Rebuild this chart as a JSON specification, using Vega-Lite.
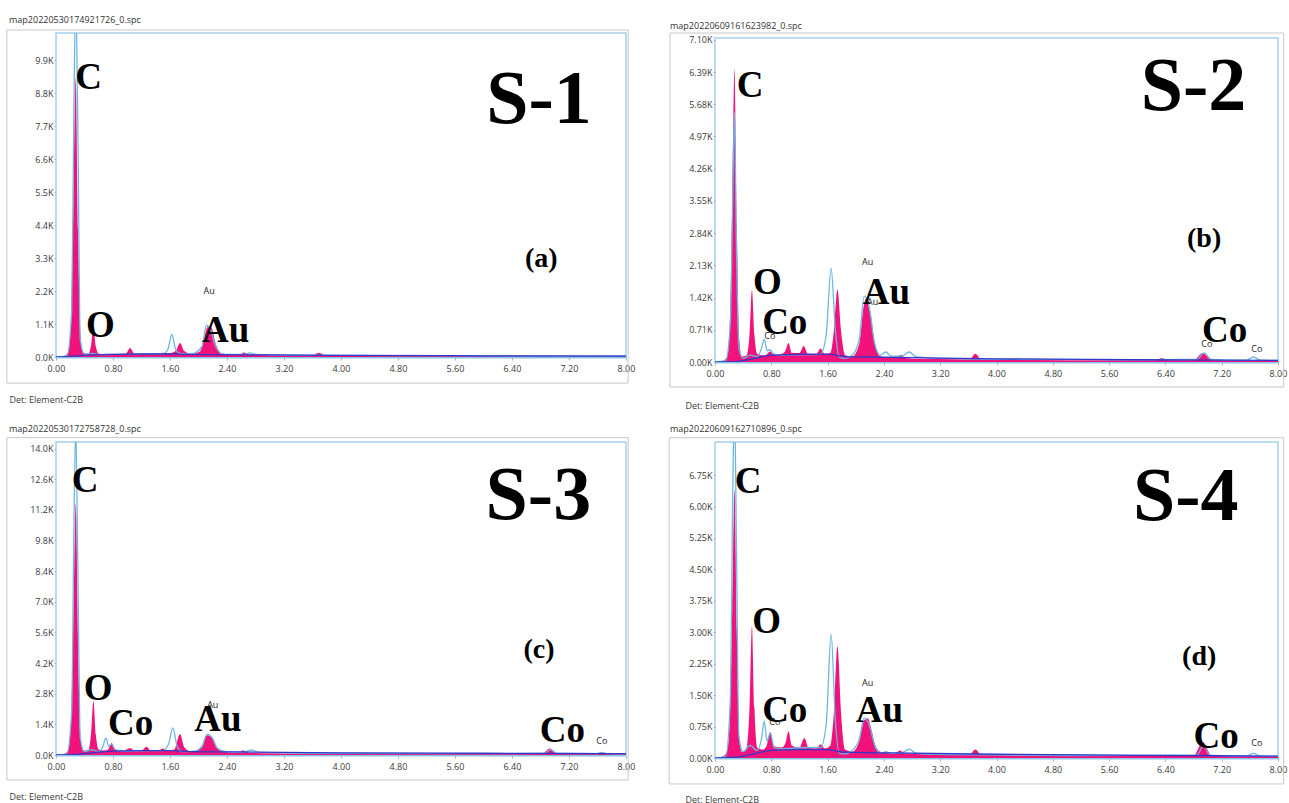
{
  "$schema": "https://vega.github.io/schema/vega-lite/v6.json",
  "background": "white",
  "padding": {"left": 5, "top": 14, "right": 0, "bottom": 0},
  "spacing": 13,
  "datasets": {
    "s1": [
      {"s":"m","e":0.00,"c":0},{"s":"m","e":0.10,"c":20},{"s":"m","e":0.17,"c":150},{"s":"m","e":0.21,"c":1200},{"s":"m","e":0.245,"c":5200},{"s":"m","e":0.277,"c":9300},{"s":"m","e":0.31,"c":4200},{"s":"m","e":0.345,"c":700},{"s":"m","e":0.38,"c":150},{"s":"m","e":0.45,"c":110},{"s":"m","e":0.49,"c":350},{"s":"m","e":0.525,"c":1000},{"s":"m","e":0.56,"c":350},{"s":"m","e":0.60,"c":110},{"s":"m","e":0.75,"c":90},{"s":"m","e":0.98,"c":110},{"s":"m","e":1.04,"c":300},{"s":"m","e":1.10,"c":110},{"s":"m","e":1.25,"c":120},{"s":"m","e":1.40,"c":110},{"s":"m","e":1.50,"c":140},{"s":"m","e":1.58,"c":120},{"s":"m","e":1.68,"c":200},{"s":"m","e":1.74,"c":470},{"s":"m","e":1.80,"c":200},{"s":"m","e":1.90,"c":110},{"s":"m","e":2.02,"c":180},{"s":"m","e":2.08,"c":650},{"s":"m","e":2.13,"c":1000},{"s":"m","e":2.18,"c":980},{"s":"m","e":2.24,"c":450},{"s":"m","e":2.32,"c":120},{"s":"m","e":2.45,"c":90},{"s":"m","e":2.58,"c":80},{"s":"m","e":2.64,"c":150},{"s":"m","e":2.70,"c":80},{"s":"m","e":2.80,"c":90},{"s":"m","e":3.00,"c":60},{"s":"m","e":3.60,"c":50},{"s":"m","e":3.69,"c":140},{"s":"m","e":3.78,"c":50},{"s":"m","e":4.50,"c":40},{"s":"m","e":6.00,"c":30},{"s":"m","e":8.00,"c":20},
      {"s":"g","e":0.00,"c":0},{"s":"g","e":0.15,"c":40},{"s":"g","e":0.22,"c":1500},{"s":"g","e":0.25,"c":8000},{"s":"g","e":0.277,"c":12000},{"s":"g","e":0.305,"c":8000},{"s":"g","e":0.34,"c":600},{"s":"g","e":0.40,"c":80},{"s":"g","e":0.50,"c":120},{"s":"g","e":0.60,"c":80},{"s":"g","e":1.00,"c":90},{"s":"g","e":1.50,"c":100},{"s":"g","e":1.57,"c":250},{"s":"g","e":1.625,"c":750},{"s":"g","e":1.68,"c":250},{"s":"g","e":1.74,"c":120},{"s":"g","e":1.90,"c":100},{"s":"g","e":2.05,"c":350},{"s":"g","e":2.11,"c":1050},{"s":"g","e":2.17,"c":900},{"s":"g","e":2.24,"c":350},{"s":"g","e":2.35,"c":90},{"s":"g","e":2.65,"c":90},{"s":"g","e":2.72,"c":140},{"s":"g","e":2.80,"c":90},{"s":"g","e":3.50,"c":60},{"s":"g","e":5.00,"c":45},{"s":"g","e":8.00,"c":35},
      {"s":"b","e":0.00,"c":0},{"s":"b","e":0.20,"c":20},{"s":"b","e":0.40,"c":60},{"s":"b","e":0.80,"c":90},{"s":"b","e":1.20,"c":100},{"s":"b","e":1.60,"c":100},{"s":"b","e":1.80,"c":90},{"s":"b","e":2.20,"c":80},{"s":"b","e":3.00,"c":70},{"s":"b","e":4.00,"c":55},{"s":"b","e":6.00,"c":40},{"s":"b","e":8.00,"c":30}
    ],
    "s2": [
      {"s":"m","e":0.00,"c":0},{"s":"m","e":0.10,"c":20},{"s":"m","e":0.17,"c":100},{"s":"m","e":0.21,"c":800},{"s":"m","e":0.245,"c":3500},{"s":"m","e":0.277,"c":6450},{"s":"m","e":0.31,"c":3000},{"s":"m","e":0.345,"c":500},{"s":"m","e":0.38,"c":120},{"s":"m","e":0.45,"c":150},{"s":"m","e":0.49,"c":600},{"s":"m","e":0.525,"c":1590},{"s":"m","e":0.56,"c":600},{"s":"m","e":0.60,"c":180},{"s":"m","e":0.66,"c":150},{"s":"m","e":0.72,"c":150},{"s":"m","e":0.78,"c":230},{"s":"m","e":0.84,"c":160},{"s":"m","e":0.95,"c":180},{"s":"m","e":1.00,"c":250},{"s":"m","e":1.045,"c":420},{"s":"m","e":1.09,"c":200},{"s":"m","e":1.20,"c":200},{"s":"m","e":1.26,"c":350},{"s":"m","e":1.32,"c":180},{"s":"m","e":1.44,"c":180},{"s":"m","e":1.50,"c":300},{"s":"m","e":1.56,"c":180},{"s":"m","e":1.64,"c":200},{"s":"m","e":1.69,"c":700},{"s":"m","e":1.74,"c":1600},{"s":"m","e":1.79,"c":700},{"s":"m","e":1.85,"c":150},{"s":"m","e":1.95,"c":120},{"s":"m","e":2.05,"c":400},{"s":"m","e":2.11,"c":1200},{"s":"m","e":2.16,"c":1410},{"s":"m","e":2.21,"c":1100},{"s":"m","e":2.27,"c":400},{"s":"m","e":2.35,"c":120},{"s":"m","e":2.50,"c":90},{"s":"m","e":2.58,"c":90},{"s":"m","e":2.64,"c":160},{"s":"m","e":2.70,"c":90},{"s":"m","e":2.90,"c":70},{"s":"m","e":3.50,"c":60},{"s":"m","e":3.62,"c":60},{"s":"m","e":3.70,"c":180},{"s":"m","e":3.78,"c":60},{"s":"m","e":5.00,"c":40},{"s":"m","e":6.25,"c":40},{"s":"m","e":6.35,"c":80},{"s":"m","e":6.45,"c":40},{"s":"m","e":6.80,"c":40},{"s":"m","e":6.93,"c":200},{"s":"m","e":7.06,"c":40},{"s":"m","e":8.00,"c":25},
      {"s":"g","e":0.00,"c":0},{"s":"g","e":0.15,"c":30},{"s":"g","e":0.22,"c":900},{"s":"g","e":0.25,"c":3500},{"s":"g","e":0.277,"c":5500},{"s":"g","e":0.305,"c":2500},{"s":"g","e":0.34,"c":300},{"s":"g","e":0.40,"c":80},{"s":"g","e":0.50,"c":150},{"s":"g","e":0.60,"c":120},{"s":"g","e":0.66,"c":300},{"s":"g","e":0.70,"c":500},{"s":"g","e":0.74,"c":250},{"s":"g","e":0.78,"c":270},{"s":"g","e":0.83,"c":180},{"s":"g","e":0.90,"c":150},{"s":"g","e":1.20,"c":160},{"s":"g","e":1.50,"c":170},{"s":"g","e":1.58,"c":600},{"s":"g","e":1.65,"c":2070},{"s":"g","e":1.71,"c":700},{"s":"g","e":1.77,"c":100},{"s":"g","e":1.85,"c":80},{"s":"g","e":1.95,"c":150},{"s":"g","e":2.05,"c":500},{"s":"g","e":2.12,"c":1450},{"s":"g","e":2.19,"c":1200},{"s":"g","e":2.27,"c":400},{"s":"g","e":2.35,"c":150},{"s":"g","e":2.43,"c":220},{"s":"g","e":2.50,"c":130},{"s":"g","e":2.65,"c":130},{"s":"g","e":2.76,"c":220},{"s":"g","e":2.85,"c":120},{"s":"g","e":3.20,"c":80},{"s":"g","e":4.00,"c":60},{"s":"g","e":6.00,"c":50},{"s":"g","e":6.85,"c":60},{"s":"g","e":6.95,"c":200},{"s":"g","e":7.05,"c":60},{"s":"g","e":7.55,"c":40},{"s":"g","e":7.65,"c":110},{"s":"g","e":7.75,"c":40},{"s":"g","e":8.00,"c":35},
      {"s":"b","e":0.00,"c":0},{"s":"b","e":0.30,"c":10},{"s":"b","e":0.50,"c":60},{"s":"b","e":0.80,"c":150},{"s":"b","e":1.20,"c":170},{"s":"b","e":1.60,"c":175},{"s":"b","e":1.75,"c":140},{"s":"b","e":1.85,"c":120},{"s":"b","e":2.20,"c":110},{"s":"b","e":3.00,"c":90},{"s":"b","e":4.00,"c":70},{"s":"b","e":6.00,"c":50},{"s":"b","e":8.00,"c":35}
    ],
    "s3": [
      {"s":"m","e":0.00,"c":0},{"s":"m","e":0.10,"c":30},{"s":"m","e":0.17,"c":200},{"s":"m","e":0.21,"c":1500},{"s":"m","e":0.245,"c":6500},{"s":"m","e":0.277,"c":11500},{"s":"m","e":0.31,"c":5000},{"s":"m","e":0.345,"c":800},{"s":"m","e":0.38,"c":200},{"s":"m","e":0.45,"c":200},{"s":"m","e":0.49,"c":900},{"s":"m","e":0.525,"c":2470},{"s":"m","e":0.56,"c":900},{"s":"m","e":0.60,"c":250},{"s":"m","e":0.68,"c":200},{"s":"m","e":0.73,"c":250},{"s":"m","e":0.78,"c":550},{"s":"m","e":0.83,"c":250},{"s":"m","e":0.95,"c":200},{"s":"m","e":1.04,"c":320},{"s":"m","e":1.10,"c":200},{"s":"m","e":1.20,"c":200},{"s":"m","e":1.27,"c":380},{"s":"m","e":1.33,"c":200},{"s":"m","e":1.44,"c":200},{"s":"m","e":1.50,"c":300},{"s":"m","e":1.56,"c":200},{"s":"m","e":1.66,"c":250},{"s":"m","e":1.74,"c":960},{"s":"m","e":1.80,"c":350},{"s":"m","e":1.90,"c":150},{"s":"m","e":2.04,"c":350},{"s":"m","e":2.12,"c":900},{"s":"m","e":2.18,"c":850},{"s":"m","e":2.25,"c":350},{"s":"m","e":2.35,"c":150},{"s":"m","e":2.55,"c":100},{"s":"m","e":2.63,"c":220},{"s":"m","e":2.70,"c":100},{"s":"m","e":3.00,"c":80},{"s":"m","e":4.00,"c":60},{"s":"m","e":6.00,"c":50},{"s":"m","e":6.82,"c":60},{"s":"m","e":6.93,"c":300},{"s":"m","e":7.04,"c":60},{"s":"m","e":8.00,"c":40},
      {"s":"g","e":0.00,"c":0},{"s":"g","e":0.15,"c":50},{"s":"g","e":0.22,"c":2000},{"s":"g","e":0.25,"c":10000},{"s":"g","e":0.277,"c":15000},{"s":"g","e":0.305,"c":9000},{"s":"g","e":0.34,"c":800},{"s":"g","e":0.40,"c":150},{"s":"g","e":0.50,"c":250},{"s":"g","e":0.60,"c":150},{"s":"g","e":0.66,"c":400},{"s":"g","e":0.70,"c":780},{"s":"g","e":0.74,"c":400},{"s":"g","e":0.78,"c":500},{"s":"g","e":0.83,"c":250},{"s":"g","e":0.95,"c":180},{"s":"g","e":1.30,"c":200},{"s":"g","e":1.50,"c":200},{"s":"g","e":1.58,"c":500},{"s":"g","e":1.64,"c":1240},{"s":"g","e":1.70,"c":400},{"s":"g","e":1.77,"c":150},{"s":"g","e":1.95,"c":180},{"s":"g","e":2.05,"c":400},{"s":"g","e":2.12,"c":950},{"s":"g","e":2.19,"c":800},{"s":"g","e":2.27,"c":300},{"s":"g","e":2.40,"c":150},{"s":"g","e":2.60,"c":120},{"s":"g","e":2.75,"c":220},{"s":"g","e":2.85,"c":120},{"s":"g","e":3.50,"c":80},{"s":"g","e":6.00,"c":60},{"s":"g","e":6.85,"c":80},{"s":"g","e":6.94,"c":250},{"s":"g","e":7.03,"c":80},{"s":"g","e":7.58,"c":60},{"s":"g","e":7.66,"c":120},{"s":"g","e":7.74,"c":60},{"s":"g","e":8.00,"c":50},
      {"s":"b","e":0.00,"c":0},{"s":"b","e":0.30,"c":30},{"s":"b","e":0.50,"c":100},{"s":"b","e":0.80,"c":180},{"s":"b","e":1.20,"c":200},{"s":"b","e":1.60,"c":200},{"s":"b","e":1.80,"c":170},{"s":"b","e":2.50,"c":140},{"s":"b","e":4.00,"c":100},{"s":"b","e":6.00,"c":80},{"s":"b","e":8.00,"c":60}
    ],
    "s4": [
      {"s":"m","e":0.00,"c":0},{"s":"m","e":0.10,"c":30},{"s":"m","e":0.17,"c":150},{"s":"m","e":0.21,"c":900},{"s":"m","e":0.245,"c":3600},{"s":"m","e":0.277,"c":6400},{"s":"m","e":0.31,"c":3000},{"s":"m","e":0.345,"c":500},{"s":"m","e":0.38,"c":150},{"s":"m","e":0.45,"c":250},{"s":"m","e":0.49,"c":1200},{"s":"m","e":0.525,"c":3150},{"s":"m","e":0.56,"c":1200},{"s":"m","e":0.60,"c":250},{"s":"m","e":0.68,"c":200},{"s":"m","e":0.73,"c":280},{"s":"m","e":0.785,"c":620},{"s":"m","e":0.84,"c":280},{"s":"m","e":0.95,"c":250},{"s":"m","e":1.00,"c":350},{"s":"m","e":1.045,"c":640},{"s":"m","e":1.09,"c":300},{"s":"m","e":1.20,"c":250},{"s":"m","e":1.27,"c":480},{"s":"m","e":1.33,"c":250},{"s":"m","e":1.44,"c":230},{"s":"m","e":1.50,"c":330},{"s":"m","e":1.56,"c":230},{"s":"m","e":1.64,"c":300},{"s":"m","e":1.69,"c":1100},{"s":"m","e":1.74,"c":2670},{"s":"m","e":1.79,"c":1100},{"s":"m","e":1.85,"c":200},{"s":"m","e":1.95,"c":150},{"s":"m","e":2.05,"c":400},{"s":"m","e":2.12,"c":900},{"s":"m","e":2.17,"c":950},{"s":"m","e":2.22,"c":700},{"s":"m","e":2.28,"c":300},{"s":"m","e":2.35,"c":150},{"s":"m","e":2.55,"c":110},{"s":"m","e":2.63,"c":180},{"s":"m","e":2.70,"c":110},{"s":"m","e":3.00,"c":90},{"s":"m","e":3.62,"c":80},{"s":"m","e":3.70,"c":200},{"s":"m","e":3.78,"c":80},{"s":"m","e":5.00,"c":60},{"s":"m","e":6.80,"c":50},{"s":"m","e":6.93,"c":380},{"s":"m","e":7.06,"c":50},{"s":"m","e":8.00,"c":40},
      {"s":"g","e":0.00,"c":0},{"s":"g","e":0.15,"c":40},{"s":"g","e":0.22,"c":1500},{"s":"g","e":0.25,"c":6000},{"s":"g","e":0.277,"c":8500},{"s":"g","e":0.305,"c":5000},{"s":"g","e":0.34,"c":500},{"s":"g","e":0.40,"c":150},{"s":"g","e":0.50,"c":300},{"s":"g","e":0.60,"c":180},{"s":"g","e":0.66,"c":450},{"s":"g","e":0.70,"c":880},{"s":"g","e":0.74,"c":400},{"s":"g","e":0.785,"c":600},{"s":"g","e":0.84,"c":250},{"s":"g","e":0.95,"c":220},{"s":"g","e":1.30,"c":250},{"s":"g","e":1.50,"c":250},{"s":"g","e":1.58,"c":800},{"s":"g","e":1.65,"c":2960},{"s":"g","e":1.71,"c":900},{"s":"g","e":1.77,"c":100},{"s":"g","e":1.85,"c":100},{"s":"g","e":1.95,"c":180},{"s":"g","e":2.05,"c":450},{"s":"g","e":2.12,"c":950},{"s":"g","e":2.19,"c":800},{"s":"g","e":2.27,"c":300},{"s":"g","e":2.35,"c":120},{"s":"g","e":2.43,"c":150},{"s":"g","e":2.50,"c":110},{"s":"g","e":2.65,"c":120},{"s":"g","e":2.76,"c":210},{"s":"g","e":2.86,"c":110},{"s":"g","e":3.30,"c":80},{"s":"g","e":5.00,"c":60},{"s":"g","e":6.85,"c":70},{"s":"g","e":6.94,"c":300},{"s":"g","e":7.03,"c":70},{"s":"g","e":7.56,"c":50},{"s":"g","e":7.65,"c":110},{"s":"g","e":7.74,"c":50},{"s":"g","e":8.00,"c":45},
      {"s":"b","e":0.00,"c":0},{"s":"b","e":0.30,"c":20},{"s":"b","e":0.50,"c":80},{"s":"b","e":0.80,"c":180},{"s":"b","e":1.20,"c":200},{"s":"b","e":1.60,"c":200},{"s":"b","e":1.75,"c":160},{"s":"b","e":1.85,"c":140},{"s":"b","e":2.50,"c":120},{"s":"b","e":4.00,"c":90},{"s":"b","e":6.00,"c":65},{"s":"b","e":8.00,"c":45}
    ],
    "t1": [
      {"k":"S","t":"S-1","e":6.78,"c":7800},
      {"k":"tag","t":"(a)","e":6.81,"c":3000},
      {"k":"el","t":"C","e":0.27,"c":8930},
      {"k":"el","t":"O","e":0.42,"c":670},
      {"k":"el","t":"Au","e":2.05,"c":500},
      {"k":"sm","t":"Au","e":2.15,"c":2100}
    ],
    "t2": [
      {"k":"S","t":"S-2","e":6.80,"c":5550},
      {"k":"tag","t":"(b)","e":6.95,"c":2530},
      {"k":"el","t":"C","e":0.31,"c":5840},
      {"k":"el","t":"O","e":0.54,"c":1500},
      {"k":"el","t":"Co","e":0.67,"c":620},
      {"k":"sm","t":"Co","e":0.78,"c":500},
      {"k":"el","t":"Au","e":2.10,"c":1280},
      {"k":"sm","t":"Au","e":2.17,"c":2140},
      {"k":"sm","t":"Au","e":2.24,"c":1260},
      {"k":"el","t":"Co","e":6.92,"c":440},
      {"k":"sm","t":"Co","e":6.99,"c":330},
      {"k":"sm","t":"Co","e":7.70,"c":220}
    ],
    "t3": [
      {"k":"S","t":"S-3","e":6.77,"c":10800},
      {"k":"tag","t":"(c)","e":6.78,"c":4440},
      {"k":"el","t":"C","e":0.22,"c":12000},
      {"k":"el","t":"O","e":0.39,"c":2520},
      {"k":"el","t":"Co","e":0.73,"c":910},
      {"k":"el","t":"Au","e":1.94,"c":1100},
      {"k":"sm","t":"Au","e":2.20,"c":2150},
      {"k":"el","t":"Co","e":6.79,"c":590},
      {"k":"sm","t":"Co","e":7.66,"c":500}
    ],
    "t4": [
      {"k":"S","t":"S-4","e":6.69,"c":5680},
      {"k":"tag","t":"(d)","e":6.88,"c":2220},
      {"k":"el","t":"C","e":0.28,"c":6320},
      {"k":"el","t":"O","e":0.53,"c":2980},
      {"k":"el","t":"Co","e":0.67,"c":860},
      {"k":"sm","t":"Co","e":0.85,"c":790},
      {"k":"el","t":"Au","e":2.00,"c":860},
      {"k":"sm","t":"Au","e":2.17,"c":1720},
      {"k":"el","t":"Co","e":6.80,"c":240},
      {"k":"sm","t":"Co","e":7.70,"c":290}
    ],
    "f1": [{"xa": -0.69, "xb": 8.03, "ya": 10900, "yb": -870}],
    "f2": [{"xa": -0.64, "xb": 8.08, "ya": 7250, "yb": -550}],
    "f3": [{"xa": -0.69, "xb": 8.03, "ya": 14500, "yb": -1140}],
    "f4": [{"xa": -0.65, "xb": 8.08, "ya": 7640, "yb": -620}]
  },
  "vconcat": [
    {
      "bounds": "flush",
      "spacing": 89,
      "hconcat": [
        {
          "width": 570, "height": 324,
          "title": {"text": "map20220530174921726_0.spc", "dx": -47, "offset": 5},
          "encoding": {
            "x": {"field": "e", "type": "quantitative", "scale": {"domain": [0, 8], "nice": false, "zero": false},
                  "axis": {"values": [0, 0.8, 1.6, 2.4, 3.2, 4, 4.8, 5.6, 6.4, 7.2, 8], "format": ".2f", "title": "Det: Element-C2B", "titleX": -47, "titleY": 45}},
            "y": {"field": "c", "type": "quantitative", "stack": null, "scale": {"domain": [0, 10800], "nice": false},
                  "axis": {"values": [0, 1100, 2200, 3300, 4400, 5500, 6600, 7700, 8800, 9900], "labelExpr": "format(datum.value/1000,'.1f')+'K'", "title": null}}
          },
          "layer": [
            {"data": {"name": "f1"}, "mark": {"type": "rect", "fill": "transparent", "stroke": "#c8c8c8", "strokeWidth": 1},
             "encoding": {"x": {"field": "xa", "type": "quantitative", "title": "Det: Element-C2B"}, "x2": {"field": "xb"}, "y": {"field": "ya", "type": "quantitative", "title": null}, "y2": {"field": "yb"}}},
            {"data": {"name": "s1"}, "transform": [{"filter": "datum.s==='m'"}], "mark": {"type": "area", "color": "#f2127c", "interpolate": "monotone", "clip": true}},
            {"data": {"name": "s1"}, "transform": [{"filter": "datum.s==='g'"}], "mark": {"type": "line", "color": "#6cb6e3", "strokeWidth": 1.3, "interpolate": "monotone", "clip": true}},
            {"data": {"name": "s1"}, "transform": [{"filter": "datum.s==='b'"}], "mark": {"type": "line", "color": "#3038c8", "strokeWidth": 1.3, "interpolate": "monotone", "clip": true}},
            {"data": {"name": "t1"}, "transform": [{"filter": "datum.k==='S'"}], "mark": {"type": "text", "font": "Liberation Serif", "fontWeight": "bold", "fontSize": 76, "align": "center", "baseline": "alphabetic", "color": "black"}, "encoding": {"text": {"field": "t"}}},
            {"data": {"name": "t1"}, "transform": [{"filter": "datum.k==='tag'"}], "mark": {"type": "text", "font": "Liberation Serif", "fontWeight": "bold", "fontSize": 28, "align": "center", "baseline": "alphabetic", "color": "black"}, "encoding": {"text": {"field": "t"}}},
            {"data": {"name": "t1"}, "transform": [{"filter": "datum.k==='el'"}], "mark": {"type": "text", "font": "Liberation Serif", "fontWeight": "bold", "fontSize": 37, "align": "left", "baseline": "alphabetic", "color": "black"}, "encoding": {"text": {"field": "t"}}},
            {"data": {"name": "t1"}, "transform": [{"filter": "datum.k==='sm'"}], "mark": {"type": "text", "font": "Open Sans", "fontSize": 9, "align": "center", "baseline": "alphabetic", "color": "#222"}, "encoding": {"text": {"field": "t"}}}
          ]
        },
        {
          "bounds": "flush",
          "spacing": 4,
          "vconcat": [
            {"width": 563, "height": 1, "data": {"values": [{}]}, "mark": {"type": "point", "opacity": 0}, "view": {"stroke": null}},
            {
              "width": 563, "height": 324,
              "title": {"text": "map20220609161623982_0.spc", "dx": -45, "offset": 2},
              "encoding": {
                "x": {"field": "e", "type": "quantitative", "scale": {"domain": [0, 8], "nice": false, "zero": false},
                      "axis": {"values": [0, 0.8, 1.6, 2.4, 3.2, 4, 4.8, 5.6, 6.4, 7.2, 8], "format": ".2f", "title": "Det: Element-C2B", "titleX": -30, "titleY": 46}},
                "y": {"field": "c", "type": "quantitative", "stack": null, "scale": {"domain": [0, 7140], "nice": false},
                      "axis": {"values": [0, 710, 1420, 2130, 2840, 3550, 4260, 4970, 5680, 6390, 7100], "labelExpr": "format(datum.value/1000,'.2f')+'K'", "title": null}}
              },
              "layer": [
                {"data": {"name": "f2"}, "mark": {"type": "rect", "fill": "transparent", "stroke": "#c8c8c8", "strokeWidth": 1},
                 "encoding": {"x": {"field": "xa", "type": "quantitative", "title": "Det: Element-C2B"}, "x2": {"field": "xb"}, "y": {"field": "ya", "type": "quantitative", "title": null}, "y2": {"field": "yb"}}},
                {"data": {"name": "s2"}, "transform": [{"filter": "datum.s==='m'"}], "mark": {"type": "area", "color": "#f2127c", "interpolate": "monotone", "clip": true}},
                {"data": {"name": "s2"}, "transform": [{"filter": "datum.s==='g'"}], "mark": {"type": "line", "color": "#6cb6e3", "strokeWidth": 1.3, "interpolate": "monotone", "clip": true}},
                {"data": {"name": "s2"}, "transform": [{"filter": "datum.s==='b'"}], "mark": {"type": "line", "color": "#3038c8", "strokeWidth": 1.3, "interpolate": "monotone", "clip": true}},
                {"data": {"name": "t2"}, "transform": [{"filter": "datum.k==='S'"}], "mark": {"type": "text", "font": "Liberation Serif", "fontWeight": "bold", "fontSize": 76, "align": "center", "baseline": "alphabetic", "color": "black"}, "encoding": {"text": {"field": "t"}}},
                {"data": {"name": "t2"}, "transform": [{"filter": "datum.k==='tag'"}], "mark": {"type": "text", "font": "Liberation Serif", "fontWeight": "bold", "fontSize": 28, "align": "center", "baseline": "alphabetic", "color": "black"}, "encoding": {"text": {"field": "t"}}},
                {"data": {"name": "t2"}, "transform": [{"filter": "datum.k==='el'"}], "mark": {"type": "text", "font": "Liberation Serif", "fontWeight": "bold", "fontSize": 37, "align": "left", "baseline": "alphabetic", "color": "black"}, "encoding": {"text": {"field": "t"}}},
                {"data": {"name": "t2"}, "transform": [{"filter": "datum.k==='sm'"}], "mark": {"type": "text", "font": "Open Sans", "fontSize": 9, "align": "center", "baseline": "alphabetic", "color": "#222"}, "encoding": {"text": {"field": "t"}}}
              ]
            }
          ]
        }
      ]
    },
    {
      "bounds": "flush",
      "spacing": 89,
      "hconcat": [
        {
          "width": 570, "height": 313,
          "title": {"text": "map20220530172758728_0.spc", "dx": -47, "offset": 3},
          "encoding": {
            "x": {"field": "e", "type": "quantitative", "scale": {"domain": [0, 8], "nice": false, "zero": false},
                  "axis": {"values": [0, 0.8, 1.6, 2.4, 3.2, 4, 4.8, 5.6, 6.4, 7.2, 8], "format": ".2f", "title": "Det: Element-C2B", "titleX": -47, "titleY": 44}},
            "y": {"field": "c", "type": "quantitative", "stack": null, "scale": {"domain": [0, 14300], "nice": false},
                  "axis": {"values": [0, 1400, 2800, 4200, 5600, 7000, 8400, 9800, 11200, 12600, 14000], "labelExpr": "format(datum.value/1000,'.1f')+'K'", "title": null}}
          },
          "layer": [
            {"data": {"name": "f3"}, "mark": {"type": "rect", "fill": "transparent", "stroke": "#c8c8c8", "strokeWidth": 1},
             "encoding": {"x": {"field": "xa", "type": "quantitative", "title": "Det: Element-C2B"}, "x2": {"field": "xb"}, "y": {"field": "ya", "type": "quantitative", "title": null}, "y2": {"field": "yb"}}},
            {"data": {"name": "s3"}, "transform": [{"filter": "datum.s==='m'"}], "mark": {"type": "area", "color": "#f2127c", "interpolate": "monotone", "clip": true}},
            {"data": {"name": "s3"}, "transform": [{"filter": "datum.s==='g'"}], "mark": {"type": "line", "color": "#6cb6e3", "strokeWidth": 1.3, "interpolate": "monotone", "clip": true}},
            {"data": {"name": "s3"}, "transform": [{"filter": "datum.s==='b'"}], "mark": {"type": "line", "color": "#3038c8", "strokeWidth": 1.3, "interpolate": "monotone", "clip": true}},
            {"data": {"name": "t3"}, "transform": [{"filter": "datum.k==='S'"}], "mark": {"type": "text", "font": "Liberation Serif", "fontWeight": "bold", "fontSize": 76, "align": "center", "baseline": "alphabetic", "color": "black"}, "encoding": {"text": {"field": "t"}}},
            {"data": {"name": "t3"}, "transform": [{"filter": "datum.k==='tag'"}], "mark": {"type": "text", "font": "Liberation Serif", "fontWeight": "bold", "fontSize": 28, "align": "center", "baseline": "alphabetic", "color": "black"}, "encoding": {"text": {"field": "t"}}},
            {"data": {"name": "t3"}, "transform": [{"filter": "datum.k==='el'"}], "mark": {"type": "text", "font": "Liberation Serif", "fontWeight": "bold", "fontSize": 37, "align": "left", "baseline": "alphabetic", "color": "black"}, "encoding": {"text": {"field": "t"}}},
            {"data": {"name": "t3"}, "transform": [{"filter": "datum.k==='sm'"}], "mark": {"type": "text", "font": "Open Sans", "fontSize": 9, "align": "center", "baseline": "alphabetic", "color": "#222"}, "encoding": {"text": {"field": "t"}}}
          ]
        },
        {
          "width": 563, "height": 316,
          "title": {"text": "map20220609162710896_0.spc", "dx": -45, "offset": 3},
          "encoding": {
            "x": {"field": "e", "type": "quantitative", "scale": {"domain": [0, 8], "nice": false, "zero": false},
                  "axis": {"values": [0, 0.8, 1.6, 2.4, 3.2, 4, 4.8, 5.6, 6.4, 7.2, 8], "format": ".2f", "title": "Det: Element-C2B", "titleX": -30, "titleY": 44}},
            "y": {"field": "c", "type": "quantitative", "stack": null, "scale": {"domain": [0, 7540], "nice": false},
                  "axis": {"values": [0, 750, 1500, 2250, 3000, 3750, 4500, 5250, 6000, 6750], "labelExpr": "format(datum.value/1000,'.2f')+'K'", "title": null}}
          },
          "layer": [
            {"data": {"name": "f4"}, "mark": {"type": "rect", "fill": "transparent", "stroke": "#c8c8c8", "strokeWidth": 1},
             "encoding": {"x": {"field": "xa", "type": "quantitative", "title": "Det: Element-C2B"}, "x2": {"field": "xb"}, "y": {"field": "ya", "type": "quantitative", "title": null}, "y2": {"field": "yb"}}},
            {"data": {"name": "s4"}, "transform": [{"filter": "datum.s==='m'"}], "mark": {"type": "area", "color": "#f2127c", "interpolate": "monotone", "clip": true}},
            {"data": {"name": "s4"}, "transform": [{"filter": "datum.s==='g'"}], "mark": {"type": "line", "color": "#6cb6e3", "strokeWidth": 1.3, "interpolate": "monotone", "clip": true}},
            {"data": {"name": "s4"}, "transform": [{"filter": "datum.s==='b'"}], "mark": {"type": "line", "color": "#3038c8", "strokeWidth": 1.3, "interpolate": "monotone", "clip": true}},
            {"data": {"name": "t4"}, "transform": [{"filter": "datum.k==='S'"}], "mark": {"type": "text", "font": "Liberation Serif", "fontWeight": "bold", "fontSize": 76, "align": "center", "baseline": "alphabetic", "color": "black"}, "encoding": {"text": {"field": "t"}}},
            {"data": {"name": "t4"}, "transform": [{"filter": "datum.k==='tag'"}], "mark": {"type": "text", "font": "Liberation Serif", "fontWeight": "bold", "fontSize": 28, "align": "center", "baseline": "alphabetic", "color": "black"}, "encoding": {"text": {"field": "t"}}},
            {"data": {"name": "t4"}, "transform": [{"filter": "datum.k==='el'"}], "mark": {"type": "text", "font": "Liberation Serif", "fontWeight": "bold", "fontSize": 37, "align": "left", "baseline": "alphabetic", "color": "black"}, "encoding": {"text": {"field": "t"}}},
            {"data": {"name": "t4"}, "transform": [{"filter": "datum.k==='sm'"}], "mark": {"type": "text", "font": "Open Sans", "fontSize": 9, "align": "center", "baseline": "alphabetic", "color": "#222"}, "encoding": {"text": {"field": "t"}}}
          ]
        }
      ]
    }
  ],
  "config": {
    "view": {"stroke": "#a6d0ea", "strokeWidth": 1.5},
    "title": {"font": "Open Sans", "fontSize": 9, "fontWeight": "normal", "color": "#333", "anchor": "start", "baseline": "alphabetic", "frame": "group"},
    "axis": {"labelFont": "Open Sans", "labelFontSize": 9, "labelColor": "#3a3a3a", "tickColor": "#b0b0b0", "tickSize": 2, "grid": false, "domain": false, "labelFlush": false, "labelOverlap": false,
             "titleFont": "Open Sans", "titleFontSize": 9, "titleFontWeight": "normal", "titleColor": "#3a3a3a", "titleAnchor": "start", "titleAlign": "left", "titleBaseline": "alphabetic"},
    "axisX": {"domain": true, "domainColor": "#8cc4e8", "domainWidth": 2, "labelPadding": 4, "tickSize": 3},
    "axisY": {"labelPadding": 1}
  }
}
